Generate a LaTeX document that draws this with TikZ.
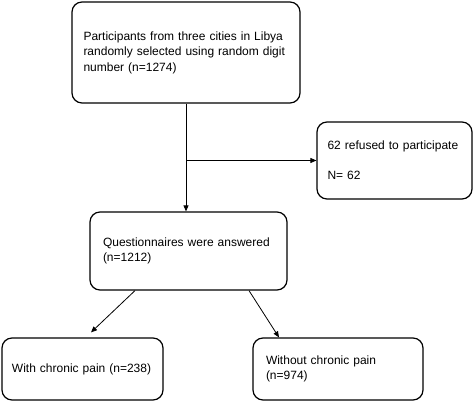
\documentclass[tikz,border=0pt]{standalone}
\usepackage{fontspec}
\setmainfont{Liberation Sans}
\usetikzlibrary{arrows.meta}
\hyphenpenalty=10000
\tikzset{
  flowbox/.style={draw, line width=1.2pt, rounded corners=10pt, align=left,
    inner sep=0pt, font=\fontsize{12}{15.5}\selectfont},
  flowarrow/.style={line width=0.8pt, -{Triangle[length=6pt,width=5pt]}}
}
\begin{document}
\begin{tikzpicture}[x=1pt,y=1pt]
\useasboundingbox (0,0) rectangle (475,401);
\node [flowbox, minimum width=228pt, minimum height=101pt, text width=205pt] (part) at (186,348.5) {Participants from three cities in Libya\\randomly selected using random digit\\number (n=1274)\\[4pt]};
\node [flowbox, minimum width=155pt, minimum height=77pt, text width=134pt] (refused) at (394.5,240.5) {62 refused to participate\\[14.5pt]N= 62};
\node [flowbox, minimum width=197pt, minimum height=78pt, text width=171pt] (answered) at (188.5,150) {Questionnaires were answered\\(n=1212)};
\node [flowbox, minimum width=161pt, minimum height=62pt, text width=141pt] (withpain) at (82.5,32) {With chronic pain (n=238)};
\node [flowbox, minimum width=170pt, minimum height=62pt, text width=144pt] (nopain) at (338,32) {Without chronic pain\\(n=974)};
\coordinate (split) at (part.south |- refused.west);
\coordinate (a1) at ([xshift=-53.5pt]answered.south);
\coordinate (a2) at ([xshift=60.5pt]answered.south);
\coordinate (b1) at ([xshift=8.5pt,yshift=5pt]withpain.north);
\coordinate (b2) at ([xshift=-59pt]nopain.north);
\draw [flowarrow] (part.south) -- (part.south |- answered.north);
\draw [flowarrow] (split) -- (refused.west);
\draw [flowarrow] (a1) -- (b1);
\draw [flowarrow] (a2) -- (b2);
\end{tikzpicture}
\end{document}
